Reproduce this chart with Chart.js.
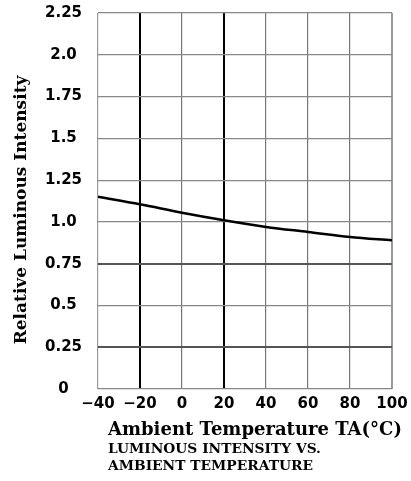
<!DOCTYPE html>
<html>
<head>
<meta charset="utf-8">
<script src="https://cdn.jsdelivr.net/npm/chart.js@4.4.0/dist/chart.umd.min.js"></script>
<style>
  html, body { margin: 0; padding: 0; background: #fff; }
  #wrap { width: 411px; height: 481px; position: relative; }
</style>
</head>
<body>
<div id="wrap"><canvas id="c" width="411" height="481"></canvas></div>
<script>
// Data
const temperatures = [-40, -20, 0, 20, 40, 60, 80, 100];
const relIntensity = [1.15, 1.105, 1.055, 1.01, 0.97, 0.94, 0.91, 0.89];
const xTicks = [-40, -20, 0, 20, 40, 60, 80, 100];
const yTicks = [0, 0.25, 0.5, 0.75, 1.0, 1.25, 1.5, 1.75, 2.0, 2.25];
const yTickLabels = ['0', '0.25', '0.5', '0.75', '1.0', '1.25', '1.5', '1.75', '2.0', '2.25'];
const xTitle = 'Ambient Temperature TA(\u00B0C)';
const yTitle = 'Relative Luminous Intensity';
const caption = ['LUMINOUS INTENSITY VS.', 'AMBIENT TEMPERATURE'];

const serif = '"DejaVu Serif", serif';
const tickFont = { family: '"DejaVu Sans", sans-serif', size: 15, weight: 'bold' };

const textPlugin = {
  id: 'texts',
  afterDraw(chart) {
    const ctx = chart.ctx;
    ctx.save();
    ctx.fillStyle = '#000';
    ctx.textBaseline = 'middle';
    // y title
    ctx.save();
    ctx.translate(22, 210);
    ctx.rotate(-Math.PI / 2);
    ctx.textAlign = 'center';
    ctx.font = 'bold 17px ' + serif;
    ctx.fillText(yTitle, 0, 0);
    ctx.restore();
    // x title + caption
    ctx.textAlign = 'left';
    ctx.font = 'bold 18px ' + serif;
    ctx.fillText(xTitle, 108, 430);
    ctx.font = 'bold 13.8px ' + serif;
    caption.forEach((t, i) => ctx.fillText(t, 108, 449 + i * 17));
    ctx.restore();
  }
};

const darkX = [-20, 20];
const darkY = [0.25, 0.75];

new Chart(document.getElementById('c'), {
  type: 'line',
  data: {
    datasets: [{
      data: temperatures.map((t, i) => ({ x: t, y: relIntensity[i] })),
      borderColor: '#000',
      borderWidth: 2.5,
      pointRadius: 0,
      tension: 0.4,
      cubicInterpolationMode: 'monotone',
      fill: false
    }]
  },
  options: {
    responsive: false,
    animation: false,
    devicePixelRatio: 1,
    layout: { padding: { top: 13, right: 19, left: 0, bottom: 0 } },
    plugins: { legend: { display: false }, tooltip: { enabled: false }, title: { display: false } },
    scales: {
      x: {
        type: 'linear',
        min: -40, max: 100,
        afterBuildTicks: s => { s.ticks = xTicks.map(v => ({ value: v })); },
        afterFit: s => { s.height = 92; s.paddingLeft = 0; s.paddingRight = 0; },
        border: { display: false },
        grid: {
          drawTicks: false,
          color: ctx => darkX.includes(ctx.tick.value) ? '#000' : (ctx.tick.value === -40 || ctx.tick.value === 100 ? '#999' : '#777'),
          lineWidth: ctx => darkX.includes(ctx.tick.value) ? 2 : (ctx.tick.value === 100 ? 2 : 1.2)
        },
        ticks: {
          color: '#000',
          font: tickFont,
          padding: 6,
          maxRotation: 0,
          autoSkip: false,
          callback: v => (v < 0 ? '\u2212' + Math.abs(v) : String(v))
        }
      },
      y: {
        type: 'linear',
        min: 0, max: 2.25,
        afterBuildTicks: s => { s.ticks = yTicks.map(v => ({ value: v })); },
        afterFit: s => { s.width = 98; s.paddingTop = 0; s.paddingBottom = 0; },
        border: { display: false },
        grid: {
          drawTicks: false,
          color: ctx => darkY.includes(ctx.tick.value) ? '#555' : '#888',
          lineWidth: ctx => darkY.includes(ctx.tick.value) ? 2 : 1.2
        },
        ticks: {
          color: '#000',
          font: tickFont,
          padding: 16,
          crossAlign: 'center',
          autoSkip: false,
          callback: (v) => yTickLabels[yTicks.indexOf(v)] ?? ''
        }
      }
    }
  },
  plugins: [textPlugin]
});
</script>
</body>
</html>
